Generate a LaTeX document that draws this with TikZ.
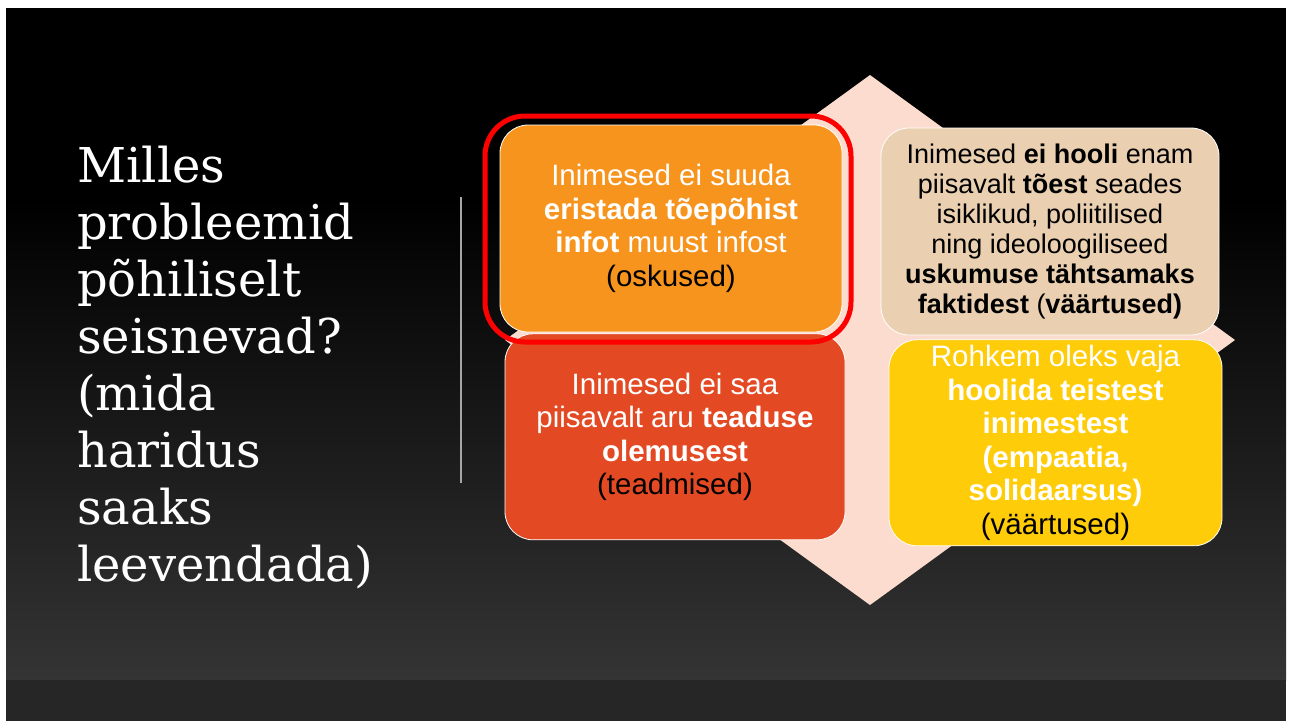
\documentclass[tikz,border=0pt]{standalone}
\usepackage{fontspec}
\setsansfont{Liberation Sans}
\newfontfamily\titlefont{DejaVu Serif}
\usetikzlibrary{positioning}
\definecolor{slidegray}{HTML}{343434}
\definecolor{bandgray}{HTML}{262626}
\definecolor{peach}{HTML}{FBDCCE}
\definecolor{cardorange}{HTML}{F7941E}
\definecolor{cardtan}{HTML}{EAD0B0}
\definecolor{cardred}{HTML}{E34A24}
\definecolor{cardyellow}{HTML}{FFCC0A}
\tikzset{
  card/.style   = {draw=white, line width=0.8pt, rounded corners=28pt, align=center,
                   inner sep=0pt, text=white, font=\sffamily\fontsize{29.5}{33.5}\selectfont},
  card tl/.style = {card, fill=cardorange, minimum width=342pt, minimum height=207pt},
  card tr/.style = {card, fill=cardtan, text=black, minimum width=338pt, minimum height=207pt,
                   font=\sffamily\fontsize{27}{30}\selectfont},
  card bl/.style = {card, fill=cardred, minimum width=340pt, minimum height=206pt},
  card br/.style = {card, fill=cardyellow, minimum width=333pt, minimum height=206pt},
  question/.style = {align=left, inner sep=0pt, text=white,
                   font=\titlefont\fontsize{48}{57}\selectfont},
  redmark/.style = {draw=red, line width=5pt, rounded corners=40pt}
}

\begin{document}
\begin{tikzpicture}[x=1pt,y=-1pt]

% slide background, white edge round it
\useasboundingbox (0,0) rectangle (1291,721);
\fill[white] (0,0) rectangle (1291,721);
\fill[black] (6,8) rectangle (1286,200);
\shade[top color=black, bottom color=slidegray] (6,200) rectangle (1286,680);
\fill[bandgray] (6,680) rectangle (1286,721);

% diamond behind the four cards
\fill[peach] (870,75) -- (1235,340) -- (870,605) -- (505,340) -- cycle;

\node[card tl] (skills) at (671,228.5)
  {Inimesed ei suuda\\ \textbf{eristada tõepõhist}\\ \textbf{infot} muust infost\\
   \textcolor{black}{(oskused)}};
\node[card bl, below=1pt of skills, xshift=4pt] (knowledge)
  {Inimesed ei saa\\ piisavalt aru \textbf{teaduse}\\ \textbf{olemusest}\\
   \textcolor{black}{(teadmised)}};
\node[card tr] (values) at (1050,231.5)
  {Inimesed \textbf{ei hooli} enam\\ piisavalt \textbf{tõest} seades\\ isiklikud, poliitilised\\
   ning ideoloogiliseed\\ \textbf{uskumuse tähtsamaks}\\ \textbf{faktidest} (\textbf{väärtused)}};
\node[card br, below=4pt of values, xshift=5.5pt] (care)
  {Rohkem oleks vaja\\ \textbf{hoolida teistest}\\ \textbf{inimestest}\\ \textbf{(empaatia,}\\
   \textbf{solidaarsus)}\\ \textcolor{black}{(väärtused)}};

% hand drawn mark round the first card
\draw[redmark] (485,116) rectangle (851,342);

% divider
\draw[gray!70, line width=1.2pt] (461,197) -- (461,483);

\node[question, anchor=north west] (title) at (77,146)
  {Milles\\ probleemid\\ põhiliselt\\ seisnevad?\\ (mida\\ haridus\\ saaks\\ leevendada)};

\end{tikzpicture}
\end{document}
